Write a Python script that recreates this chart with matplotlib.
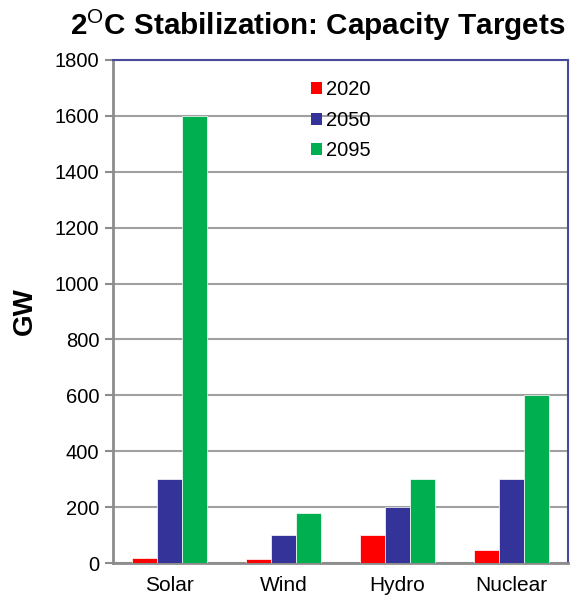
import matplotlib
matplotlib.use('Agg')
import matplotlib.pyplot as plt
import numpy as np
from matplotlib.patches import Patch

plt.rcParams['font.family'] = 'Liberation Sans'
plt.rcParams['mathtext.fontset'] = 'custom'
plt.rcParams['mathtext.rm'] = 'Liberation Sans'
plt.rcParams['mathtext.bf'] = 'Liberation Sans:bold'

# capacity targets in GW
categories = ['Solar', 'Wind', 'Hydro', 'Nuclear']
years = ['2020', '2050', '2095']
gw_2020 = [18, 14, 100, 48]
gw_2050 = [300, 100, 200, 300]
gw_2095 = [1600, 180, 300, 600]
colors = ['#ff0000', '#333399', '#00b050']

fig = plt.figure(figsize=(5.72, 6.03), dpi=100)
ax = fig.add_axes([0.1976, 0.0663, 0.7954, 0.8342])

x = np.arange(len(categories))
w = 0.22
for i, (vals, c) in enumerate(zip([gw_2020, gw_2050, gw_2095], colors)):
    ax.bar(x + (i - 1) * w, vals, width=w, color=c, edgecolor='white',
           linewidth=0.5, zorder=3)

ax.set_xlim(-0.5, 3.5)
ax.set_ylim(0, 1800)
ax.set_yticks(np.arange(0, 1801, 200))
ax.set_xticks(x)
ax.set_xticklabels(categories)
ax.tick_params(axis='x', length=0, labelsize=15, pad=9)
ax.tick_params(axis='y', length=6, width=1.5, color='#8c8c8c', labelsize=14.5, pad=4)
ax.yaxis.grid(True, color='#a0a0a0', linewidth=1.5, zorder=0)
ax.set_axisbelow(True)

for side in ['left', 'bottom']:
    ax.spines[side].set_color('#8c8c8c')
    ax.spines[side].set_linewidth(2)
for side in ['top', 'right']:
    ax.spines[side].set_color('#4a4a9c')
    ax.spines[side].set_linewidth(1.5)

ax.set_ylabel('GW', fontsize=20, fontweight='bold', labelpad=12)

handles = [Patch(facecolor=c, edgecolor='none') for c in colors]
ax.legend(handles, years, loc='upper left', bbox_to_anchor=(0.417, 0.976),
          frameon=False, fontsize=14.5, handlelength=0.55, handleheight=0.55,
          handletextpad=0.2, labelspacing=0.58, borderaxespad=0)

fig.text(0.555, 0.958, r'2$^{\mathrm{O}}$C Stabilization: Capacity Targets',
         ha='center', va='center', fontsize=21.3, fontweight='bold')

fig.savefig('out.png', dpi=100)
